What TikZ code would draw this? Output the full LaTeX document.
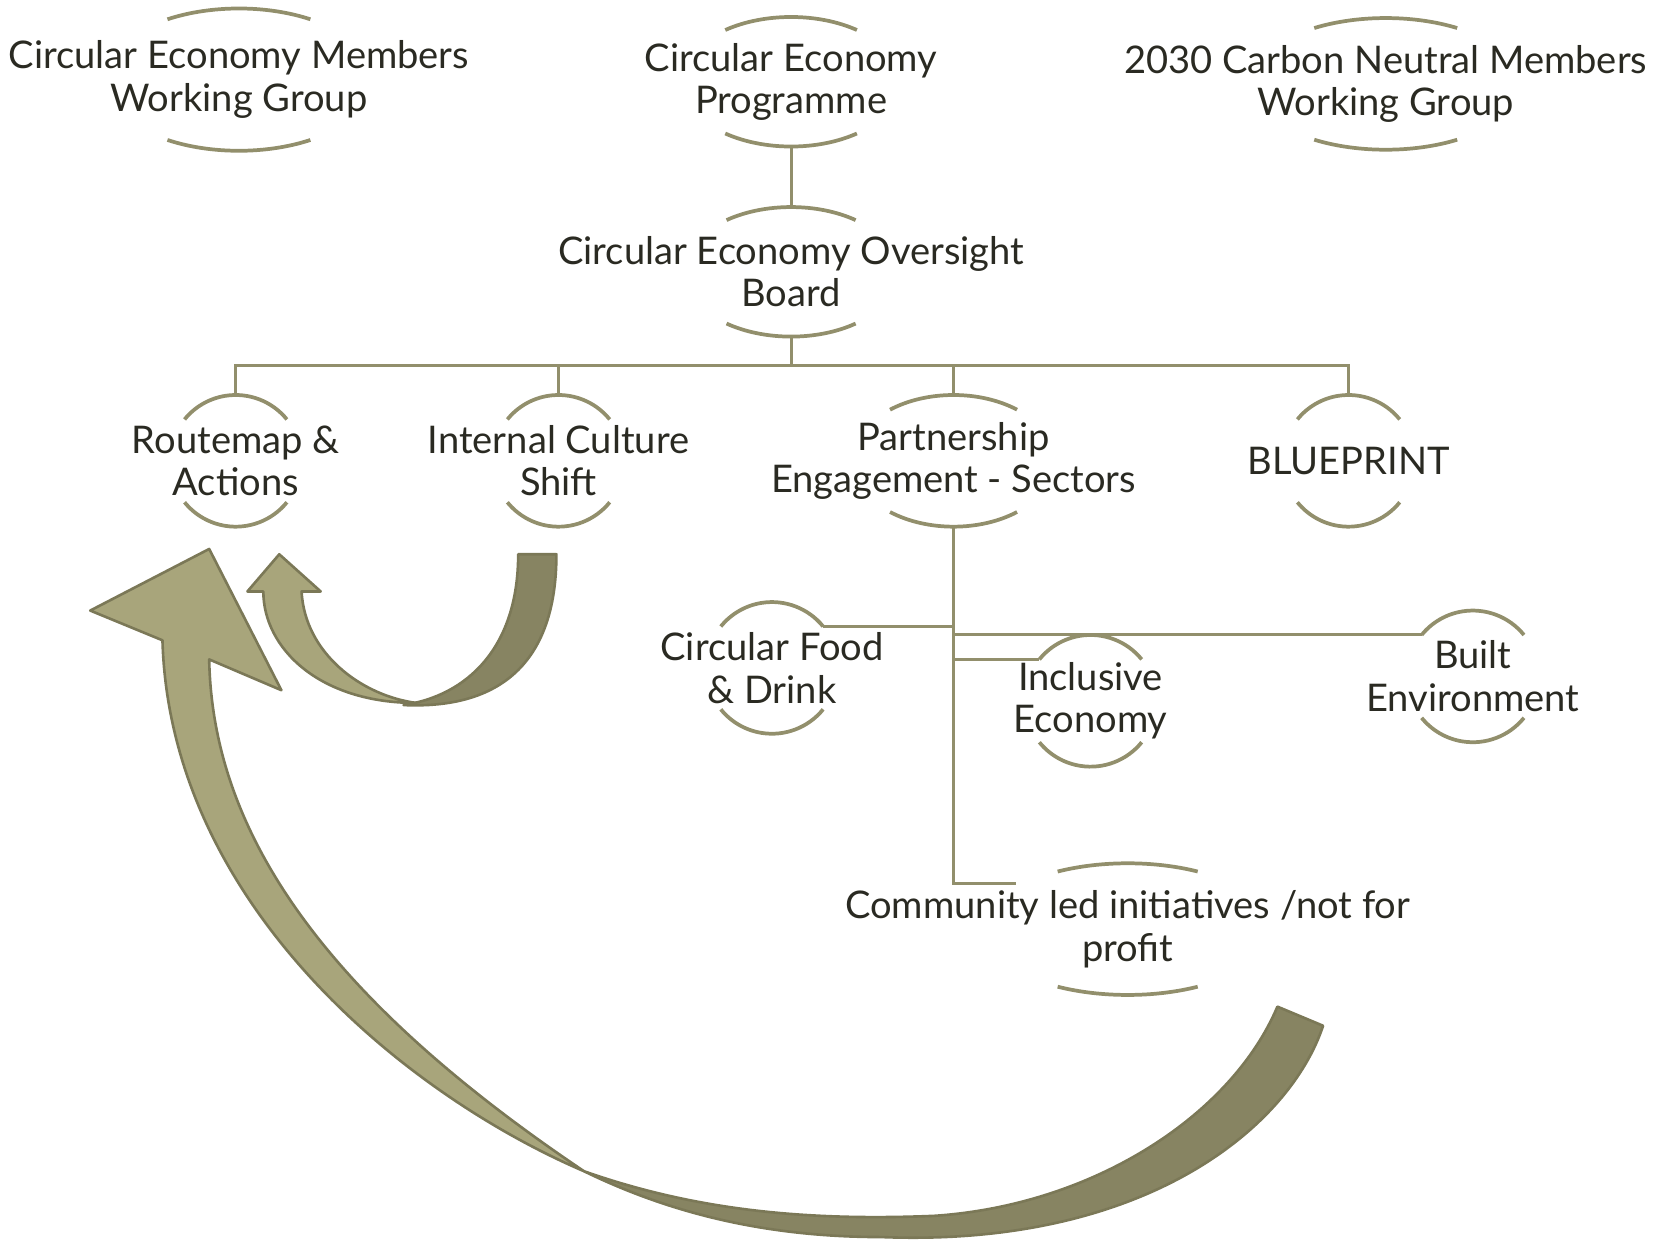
\documentclass[tikz,border=0pt]{standalone}
\usepackage{fontspec}
\setmainfont{Lato}
\usetikzlibrary{calc}

\definecolor{lineOlive}{HTML}{928F6C}
\definecolor{lightOlive}{HTML}{A8A57B}
\definecolor{darkOlive}{HTML}{878462}
\definecolor{edgeOlive}{HTML}{7B7857}
\definecolor{inkGray}{HTML}{2A2A22}

% top and bottom rim arcs round a node: name, x radius, y radius, angle
\newcommand{\capArcs}[4]{%
  \draw[arcStyle] ($(#1)+(#4:#2 and #3)$) coordinate (#1-tr)
    arc[start angle=#4, end angle=180-#4, x radius=#2, y radius=#3] coordinate (#1-tl);
  \draw[arcStyle] ($(#1)+(-#4:#2 and #3)$)
    arc[start angle=-#4, end angle=-180+#4, x radius=#2, y radius=#3];
  \coordinate (#1-t) at ($(#1)+(90:#2 and #3)$);
  \coordinate (#1-b) at ($(#1)+(-90:#2 and #3)$);
}

\begin{document}
\begin{tikzpicture}[x=0.01cm, y=0.01cm,
    nodeStyle/.style={align=center, text=inkGray, inner sep=0pt, font=\fontsize{10.2}{11.4}\selectfont},
    arcStyle/.style={draw=lineOlive, line width=1pt},
    linkStyle/.style={draw=lineOlive, line width=0.8pt},
    arrowStyle/.style={draw=edgeOlive, line width=0.7pt, line join=round}]
  \useasboundingbox (0,0) rectangle (1568,-1167);

  \node[nodeStyle](members) at (225,-75) {Circular Economy Members\\Working Group};
  \node[nodeStyle](programme) at (745,-77) {Circular Economy\\Programme};
  \node[nodeStyle](neutral) at (1305,-79) {2030 Carbon Neutral Members\\Working Group};
  \node[nodeStyle](board) at (745,-256) {Circular Economy Oversight\\Board};
  \node[nodeStyle](routemap) at (222,-434) {Routemap \&\\Actions};
  \node[nodeStyle](culture) at (526,-434) {Internal Culture\\Shift};
  \node[nodeStyle](partner) at (898,-434) {Partnership\\Engagement - Sectors};
  \node[nodeStyle](blueprint) at (1270,-434) {BLUEPRINT};
  \node[nodeStyle](food) at (727,-629) {Circular Food\\\& Drink};
  \node[nodeStyle](inclusive) at (1027,-660) {Inclusive\\Economy};
  \node[nodeStyle](built) at (1387,-637) {Built\\Environment};
  \node[nodeStyle](community) at (1062,-875) {Community led initiatives /not for\\profit};

  \capArcs{members}{127}{67}{58}
  \capArcs{programme}{103}{61}{53}
  \capArcs{neutral}{127}{62}{58}
  \capArcs{board}{101}{61}{53}
  \capArcs{routemap}{62}{62}{39}
  \capArcs{culture}{62}{62}{39}
  \capArcs{partner}{95}{62}{51}
  \capArcs{blueprint}{62}{62}{39}
  \capArcs{food}{62}{62}{39}
  \capArcs{inclusive}{62}{62}{39}
  \capArcs{built}{62}{62}{39}
  \capArcs{community}{136}{62}{61}
  \coordinate (community-w) at ($(community)+(-105,43)$);

  \draw[linkStyle] (programme-b) -- (board-t);
  \draw[linkStyle] (board-b) -- ++(0,-27) coordinate (bus);
  \foreach \n in {routemap,culture,partner,blueprint}
    \draw[linkStyle] (bus) -| (\n-t);
  \draw[linkStyle] (partner-b) |- (community-w);
  \draw[linkStyle] (food-tr) -- (food-tr -| partner-b);
  \draw[linkStyle] (built-tl -| partner-b) -- (built-tl);
  \draw[linkStyle] (inclusive-tl -| partner-b) -- (inclusive-tl);

  \draw[arrowStyle, fill=darkOlive] (1203,-948) -- (1246,-966)
    .. controls (1215,-1060) and (1080,-1175) .. (830,-1165)
    .. controls (720,-1165) and (630,-1142) .. (550,-1103)
    .. controls (655,-1140) and (760,-1150) .. (880,-1145)
    .. controls (1030,-1135) and (1160,-1050) .. (1203,-948) -- cycle;
  \draw[arrowStyle, fill=lightOlive] (550,-1103)
    .. controls (380,-1030) and (160,-850) .. (153,-603)
    -- (85,-575) -- (197,-517) -- (265,-650) -- (197,-621)
    .. controls (200,-780) and (300,-935) .. (550,-1103) -- cycle;

  \draw[arrowStyle, fill=darkOlive] (488,-522) -- (524,-522)
    .. controls (524,-625) and (470,-668) .. (380,-664)
    .. controls (440,-655) and (488,-610) .. (488,-522) -- cycle;
  \draw[arrowStyle, fill=lightOlive] (392,-662)
    .. controls (300,-662) and (248,-610) .. (248,-557)
    -- (233,-557) -- (263,-522) -- (302,-557) -- (284,-557)
    .. controls (287,-615) and (340,-655) .. (392,-662) -- cycle;
\end{tikzpicture}
\end{document}
